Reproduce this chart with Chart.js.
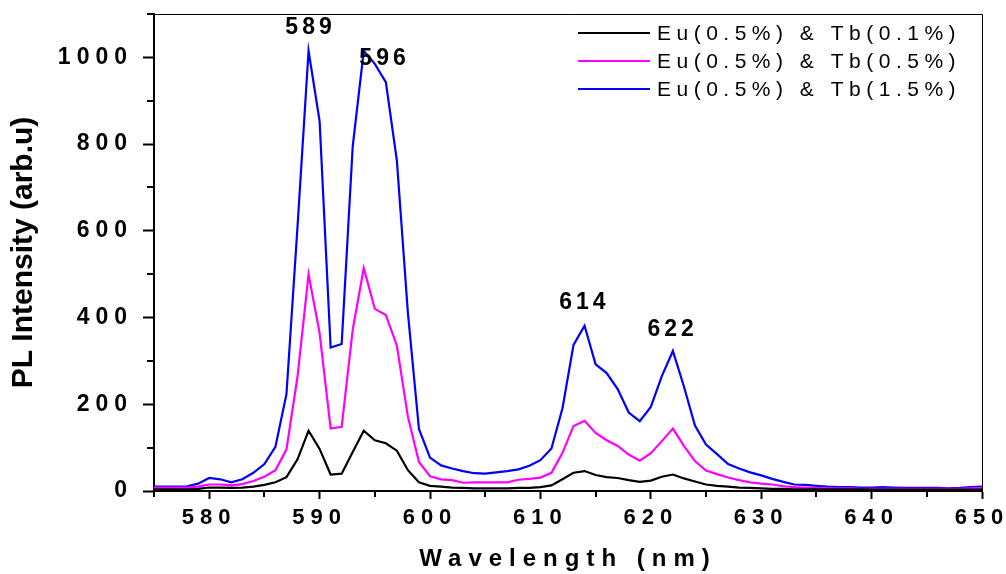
<!DOCTYPE html>
<html>
<head>
<meta charset="utf-8">
<script src="https://cdn.jsdelivr.net/npm/chart.js@4/dist/chart.umd.min.js"></script>
<style>
  html, body { margin: 0; padding: 0; background: #fff; }
  #wrap { width: 1006px; height: 574px; }
</style>
</head>
<body>
<div id="wrap"><canvas id="plChart" width="1006" height="574"></canvas></div>
<script>
// Longitudes de onda (nm)
const wavelength = [
  575, 576, 577, 578, 579, 580, 581, 582, 583, 584, 585, 586, 587, 588, 589, 590, 591, 592, 593,
  594, 595, 596, 597, 598, 599, 600, 601, 602, 603, 604, 605, 606, 607, 608, 609, 610, 611, 612,
  613, 614, 615, 616, 617, 618, 619, 620, 621, 622, 623, 624, 625, 626, 627, 628, 629, 630, 631,
  632, 633, 634, 635, 636, 637, 638, 639, 640, 641, 642, 643, 644, 645, 646, 647, 648, 649, 650
];

// Intensidad PL para cada muestra
const tb01 = [
  4, 4, 4, 4, 5, 8, 8, 7, 8, 10, 14, 20, 32, 73, 139, 97, 38, 40, 90,
  139, 117, 110, 93, 48, 20, 12, 10, 8, 7, 6, 6, 6, 6, 7, 7, 9, 13, 27,
  42, 46, 37, 32, 30, 25, 21, 24, 33, 38, 29, 22, 15, 12, 10, 8, 7, 6, 5,
  5, 4, 4, 4, 4, 4, 4, 4, 3, 3, 3, 3, 3, 3, 3, 3, 3, 3, 3
];
const tb05 = [
  8, 8, 8, 8, 10, 15, 15, 13, 16, 23, 33, 48, 96, 264, 500, 364, 144, 148, 372,
  514, 420, 406, 335, 171, 67, 34, 27, 25, 19, 20, 20, 20, 20, 26, 28, 31, 42, 88,
  150, 162, 134, 117, 104, 84, 70, 87, 115, 144, 104, 69, 47, 39, 31, 25, 20, 17, 15,
  11, 9, 8, 7, 6, 6, 6, 5, 5, 5, 5, 5, 5, 5, 5, 5, 5, 6, 7
];
const tb15 = [
  10, 10, 10, 11, 17, 30, 27, 20, 27, 42, 62, 102, 224, 610, 1015, 853, 331, 339, 795,
  1015, 985, 943, 762, 410, 143, 77, 59, 52, 46, 41, 40, 43, 46, 50, 58, 71, 98, 191,
  337, 381, 292, 272, 235, 181, 161, 194, 265, 323, 241, 151, 107, 85, 62, 52, 43, 36, 28,
  21, 15, 14, 12, 10, 9, 9, 8, 8, 9, 8, 7, 7, 7, 7, 6, 7, 9, 10
];

const seriesNames = ['Eu(0.5%) & Tb(0.1%)', 'Eu(0.5%) & Tb(0.5%)', 'Eu(0.5%) & Tb(1.5%)'];
const seriesColors = ['#000000', '#ff00ff', '#0000ff'];

// Ticks
const xMajor = [580, 590, 600, 610, 620, 630, 640, 650];
const xMinor = [575, 585, 595, 605, 615, 625, 635, 645];
const yMajor = [0, 200, 400, 600, 800, 1000];
const yMinor = [100, 300, 500, 700, 900, 1100];

// Etiquetas de los picos
const peakText = ['589', '596', '614', '622'];
const peakX = [589, 595.7, 613.8, 621.8];
const peakY = [1068, 996, 435, 372];

const FONT = '"Liberation Sans", Arial, Helvetica, sans-serif';

function toPoints(values) {
  return values.map((v, i) => ({ x: wavelength[i], y: v }));
}

// Aplica letterSpacing a un método de dibujo de una escala
function spaced(obj, method, spacing) {
  const orig = obj[method];
  if (orig._spaced) return;
  const wrapped = function (...args) {
    const ctx = this.ctx;
    const prev = ctx.letterSpacing;
    ctx.letterSpacing = spacing;
    orig.apply(this, args);
    ctx.letterSpacing = prev;
  };
  wrapped._spaced = true;
  obj[method] = wrapped;
}

const spacingPlugin = {
  id: 'spacing',
  beforeDraw(chart) {
    spaced(chart.scales.x, 'drawLabels', '6px');
    spaced(chart.scales.x, 'drawTitle', '7px');
    spaced(chart.scales.y, 'drawLabels', '6px');
  }
};

const decorPlugin = {
  id: 'decor',
  afterDraw(chart) {
    const { ctx, chartArea, scales: { x, y } } = chart;
    const top = Math.round(chartArea.top) + 0.5;
    const right = Math.round(chartArea.right) + 0.5;
    ctx.save();

    // marco superior y derecho
    ctx.strokeStyle = '#000';
    ctx.lineWidth = 1;
    ctx.beginPath();
    ctx.moveTo(chartArea.left, top);
    ctx.lineTo(right, top);
    ctx.lineTo(right, chartArea.bottom);
    ctx.stroke();

    // ticks menores
    ctx.lineWidth = 2;
    ctx.beginPath();
    xMinor.forEach(v => {
      const px = Math.round(x.getPixelForValue(v));
      ctx.moveTo(px, chartArea.bottom);
      ctx.lineTo(px, chartArea.bottom + 6);
    });
    yMinor.forEach(v => {
      const py = Math.round(y.getPixelForValue(v));
      ctx.moveTo(chartArea.left - 7, py);
      ctx.lineTo(chartArea.left, py);
    });
    ctx.stroke();

    // etiquetas de picos
    ctx.fillStyle = '#000';
    ctx.font = 'bold 23px ' + FONT;
    ctx.letterSpacing = '4px';
    ctx.textAlign = 'center';
    ctx.textBaseline = 'middle';
    peakText.forEach((t, i) => {
      ctx.fillText(t, x.getPixelForValue(peakX[i]) + 2, y.getPixelForValue(peakY[i]));
    });

    // leyenda
    ctx.font = '21px ' + FONT;
    ctx.letterSpacing = '5.5px';
    ctx.textAlign = 'left';
    chart.data.datasets.forEach((ds, i) => {
      const ly = 33 + i * 28;
      ctx.strokeStyle = ds.borderColor;
      ctx.lineWidth = 2;
      ctx.beginPath();
      ctx.moveTo(578, ly);
      ctx.lineTo(650, ly);
      ctx.stroke();
      ctx.fillText(ds.label, 657, ly + 1);
    });

    ctx.restore();
  }
};

const ctx = document.getElementById('plChart').getContext('2d');

const plChart = new Chart(ctx, {
  type: 'line',
  data: {
    datasets: [tb01, tb05, tb15].map((vals, i) => ({
      label: seriesNames[i],
      data: toPoints(vals),
      borderColor: seriesColors[i],
      borderWidth: 2.2,
      pointRadius: 0,
      tension: 0,
      fill: false
    }))
  },
  options: {
    responsive: false,
    animation: false,
    layout: { padding: { top: 14, right: 24, left: 0, bottom: 0 } },
    plugins: {
      legend: { display: false },
      tooltip: { enabled: false }
    },
    scales: {
      x: {
        type: 'linear',
        min: 575,
        max: 650,
        afterBuildTicks: s => { s.ticks = xMajor.map(v => ({ value: v })); },
        afterFit: s => { s.height = 83; s.paddingLeft = 0; s.paddingRight = 0; },
        ticks: {
          color: '#000',
          font: { family: FONT, size: 22, weight: 'bold' },
          padding: 6,
          maxRotation: 0,
          autoSkip: false,
          callback: v => String(v)
        },
        grid: {
          drawOnChartArea: false,
          drawTicks: true,
          tickLength: 8,
          tickWidth: 2,
          tickColor: '#000'
        },
        border: { display: true, color: '#000', width: 2 },
        title: {
          display: true,
          text: 'Wavelength (nm)',
          color: '#000',
          font: { family: FONT, size: 24, weight: 'bold' },
          padding: { top: 0, bottom: 0 }
        }
      },
      y: {
        min: 0,
        max: 1100,
        afterBuildTicks: s => { s.ticks = yMajor.map(v => ({ value: v })); },
        afterFit: s => { s.width = 154; s.paddingTop = 0; s.paddingBottom = 0; },
        ticks: {
          color: '#000',
          font: { family: FONT, size: 23, weight: 'bold' },
          padding: 10,
          callback: v => String(v)
        },
        grid: {
          drawOnChartArea: false,
          drawTicks: true,
          tickLength: 11,
          tickWidth: 2,
          tickColor: '#000'
        },
        border: { display: true, color: '#000', width: 2 },
        title: {
          display: true,
          text: 'PL Intensity (arb.u)',
          color: '#000',
          font: { family: FONT, size: 30, weight: 'bold' },
          padding: { top: 6, bottom: 0 }
        }
      }
    }
  },
  plugins: [spacingPlugin, decorPlugin]
});
</script>
</body>
</html>
